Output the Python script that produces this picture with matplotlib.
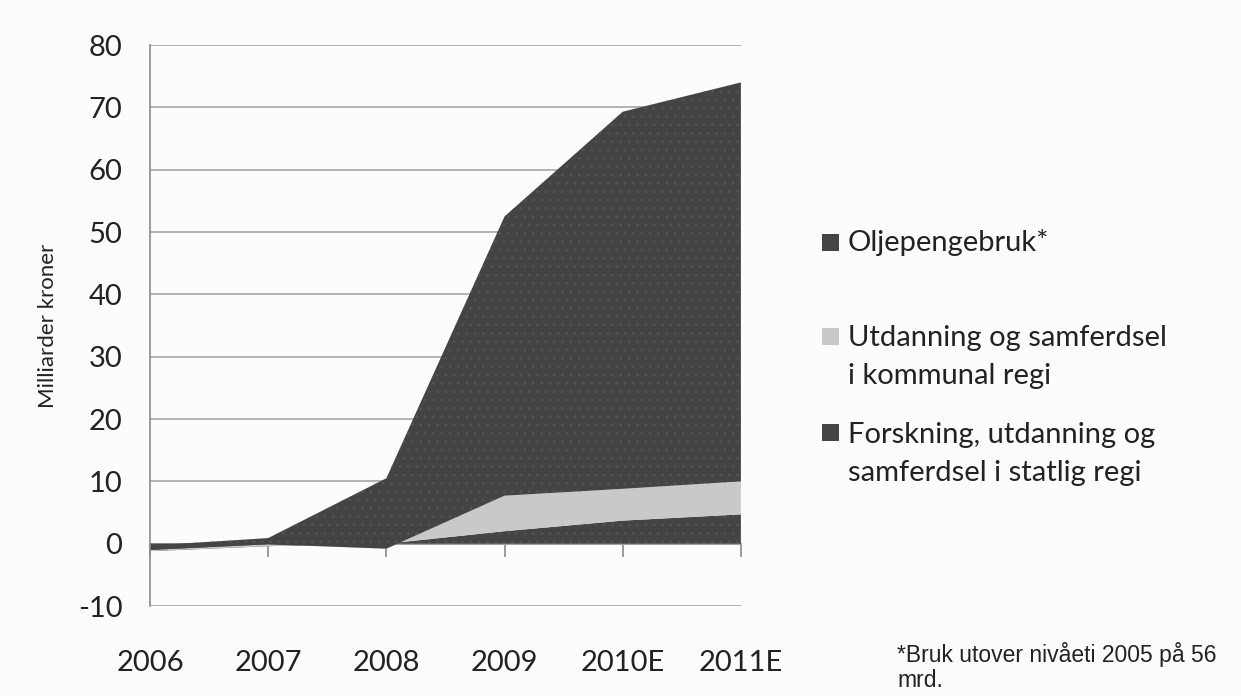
import matplotlib.pyplot as plt
from matplotlib.patches import Rectangle

# data (milliarder kroner)
years = ["2006", "2007", "2008", "2009", "2010E", "2011E"]
forskning = [-1.2, -0.4, 0.0, 2.0, 3.7, 4.7]
utdanning = [0.2, 0.3, -0.8, 5.7, 5.1, 5.3]
olje = [0.7, 1.0, 11.3, 44.8, 60.5, 64.0]

labels = ["Forskning, utdanning og\nsamferdsel i statlig regi",
          "Utdanning og samferdsel\ni kommunal regi",
          "Oljepengebruk*"]
colors = ["#444446", "#c9c9cb", "#444446"]

bg = "#fbfcfc"
plt.rcParams["font.family"] = ["Lato", "DejaVu Sans"]
plt.rcParams["axes.unicode_minus"] = False
plt.rcParams["hatch.color"] = "#565658"
plt.rcParams["hatch.linewidth"] = 0.6

fig = plt.figure(figsize=(12.41, 6.96), dpi=100, facecolor=bg)
ax = fig.add_axes([0.1209, 0.1293, 0.4761, 0.806])
ax.set_facecolor(bg)

x = list(range(len(years)))
polys = ax.stackplot(x, forskning, utdanning, olje, colors=colors,
                     linewidth=0, zorder=2)
for p, c in zip(polys, colors):
    if c == "#444446":
        p.set_hatch("..")
        p.set_edgecolor("#565658")

ax.set_xlim(0, len(years) - 1)
ax.set_ylim(-10, 80)
ax.set_yticks(range(-10, 81, 10))
ax.yaxis.grid(True, color="#a6a6a6", linewidth=1.2, zorder=0)
ax.set_axisbelow(True)

for s in ["top", "right", "bottom"]:
    ax.spines[s].set_visible(False)
ax.spines["left"].set_color("#8c8c8c")
ax.spines["left"].set_linewidth(1.2)

ax.tick_params(axis="y", length=0, labelsize=21, pad=20, labelcolor="#222222")
ax.set_xticks(x)
ax.set_xticklabels(years)
ax.tick_params(axis="x", length=0, labelsize=21, pad=32, labelcolor="#222222")

# category axis crossing at zero, with tick marks
sec = ax.secondary_xaxis(10 / 90)
sec.set_xticks(x)
sec.set_xticklabels([])
sec.tick_params(direction="out", length=9, width=1.2, color="#8c8c8c")
sec.spines["bottom"].set_color("#8c8c8c")
sec.spines["bottom"].set_linewidth(1.2)

ax.set_ylabel("Milliarder kroner", fontsize=16, labelpad=14, color="#222222")

# legend drawn in the reference's order (top layer first)
sq_y = [0.651, 0.517, 0.378]
txt_y = [0.652, 0.487, 0.348]
for lab, c, ys, yt in zip(labels[::-1], colors[::-1], sq_y, txt_y):
    fig.patches.append(Rectangle((822 / 1241, ys - 8.5 / 696), 17 / 1241,
                                 17 / 696, transform=fig.transFigure,
                                 facecolor=c, edgecolor="none"))
    fig.text(848 / 1241, yt, lab, fontsize=21, va="center", ha="left",
             color="#222222", linespacing=1.55)

fig.text(897 / 1241, 1 - 667 / 696, "*Bruk utover nivåeti 2005 på 56\nmrd.",
         fontsize=16.5, family=["Liberation Sans", "DejaVu Sans"],
         va="center", ha="left", color="#222222", linespacing=1.15)

fig.savefig("out.png", dpi=100, facecolor=bg)
